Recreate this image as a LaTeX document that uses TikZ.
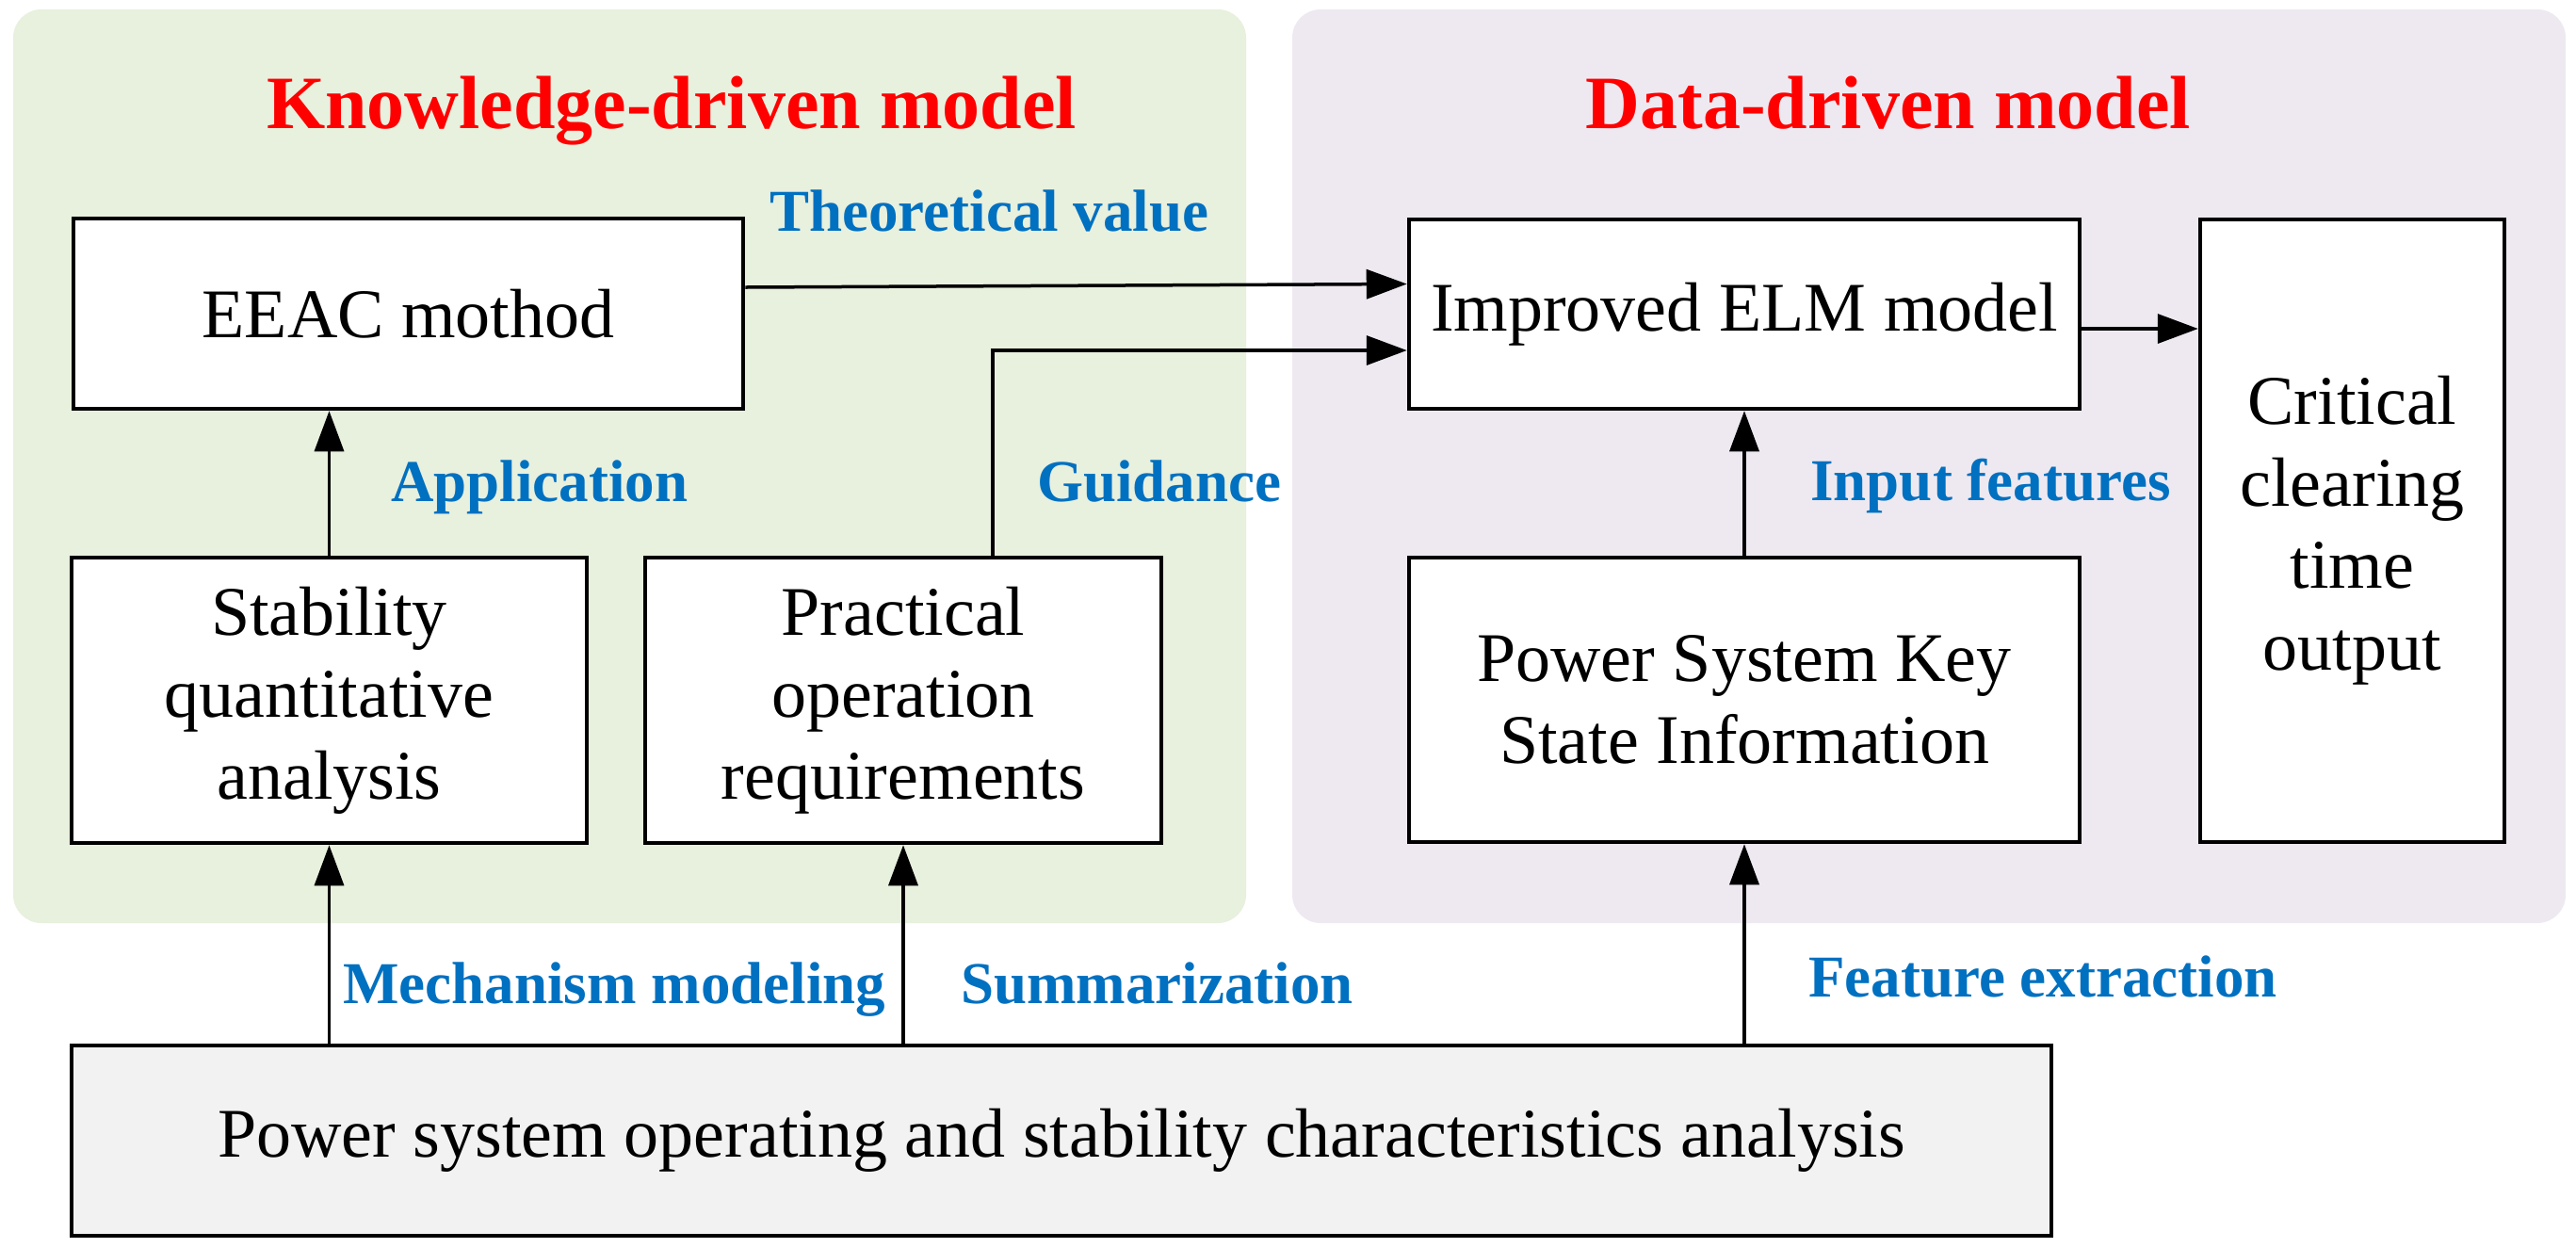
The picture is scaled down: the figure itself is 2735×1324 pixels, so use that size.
\documentclass[tikz,border=0pt]{standalone}
\usepackage{fontspec}
\setmainfont{Liberation Serif}
\usetikzlibrary{arrows.meta,calc}
\definecolor{kgreen}{HTML}{E8F0DE}
\definecolor{dpurple}{HTML}{EEE9F1}
\definecolor{lblue}{HTML}{0070C0}
\definecolor{greybox}{HTML}{F2F2F2}
\tikzset{
  panel/.style={rounded corners=15pt, draw=none},
  box/.style={draw=black, line width=2.25pt, fill=white, inner sep=0pt, align=center,
    font=\fontsize{37}{43.5}\selectfont},
  arr/.style={line width=1.75pt, -{Triangle[length=21.5pt,width=15.5pt]}},
  plain/.style={line width=1.75pt},
  lbl/.style={text=lblue, font=\bfseries\fontsize{31.5}{36}\selectfont, inner sep=0pt},
  ttl/.style={text=red, font=\bfseries\fontsize{40}{46}\selectfont, inner sep=0pt}
}
\begin{document}
\begin{tikzpicture}[x=0.5pt,y=-0.5pt]
\useasboundingbox (0,0) rectangle (2735,1324);
\fill[white] (0,0) rectangle (2735,1324);
% panels
\fill[panel, kgreen] (14,10) rectangle (1323,980);
\fill[panel, dpurple] (1372,10) rectangle (2724,980);
% titles
\node[ttl, anchor=base] (kt) at (713,136) {Knowledge-driven model};
\node[ttl, anchor=base] (dt) at (2005,136) {Data-driven model};
% boxes
\node[box, minimum width=355.5pt, minimum height=101pt] (eeac) at (433.5,333) {EEAC mothod};
\node[box, minimum width=273.5pt, minimum height=151.5pt] (stab) at (349.5,743.5) {Stability\\quantitative\\analysis};
\node[box, minimum width=274pt, minimum height=151.5pt] (prac) at (959,743.5) {Practical\\operation\\requirements};
\node[box, fill=greybox, minimum width=1051pt, minimum height=101pt] (bot) at (1127,1211) {Power system operating and stability characteristics analysis};
\node[box, minimum width=356pt, minimum height=100.5pt] (elm) at (1852,333.5) {Improved ELM model};
\node[box, minimum width=356pt, minimum height=151pt] (psk) at (1852,743) {Power System Key\\State Information};
\node[box, minimum width=161.5pt, minimum height=330.5pt] (crit) at (2497.5,563.5) {Critical\\clearing\\time\\output};
% connectors
\draw[arr] ([yshift=14pt]eeac.east) -- ([yshift=16pt]elm.west);
\draw[arr] ([xshift=47.5pt]prac.north) |- ([yshift=-19.25pt]elm.west);
\draw[arr] ([yshift=-7.75pt]elm.east) -- ([yshift=-7.75pt]elm.east -| crit.west);
\draw[arr] (stab.north) -- (stab.north |- eeac.south);
\draw[arr] (bot.north -| stab.south) -- (stab.south);
\draw[arr] (bot.north -| prac.south) -- (prac.south);
\draw[arr] (psk.north) -- (elm.south);
\draw[arr] (bot.north -| psk.south) -- (psk.south);
% labels
\node[lbl, anchor=base west] (l1) at (817,245) {Theoretical value};
\node[lbl, anchor=base west] (l2) at (415,532) {Application};
\node[lbl, anchor=base west] (l3) at (1101,532) {Guidance};
\node[lbl, anchor=base west] (l4) at (1922,531) {Input features};
\node[lbl, anchor=base west] (l5) at (364,1065) {Mechanism modeling};
\node[lbl, anchor=base west] (l6) at (1020,1065) {Summarization};
\node[lbl, anchor=base west] (l7) at (1920,1058) {Feature extraction};
\end{tikzpicture}
\end{document}
